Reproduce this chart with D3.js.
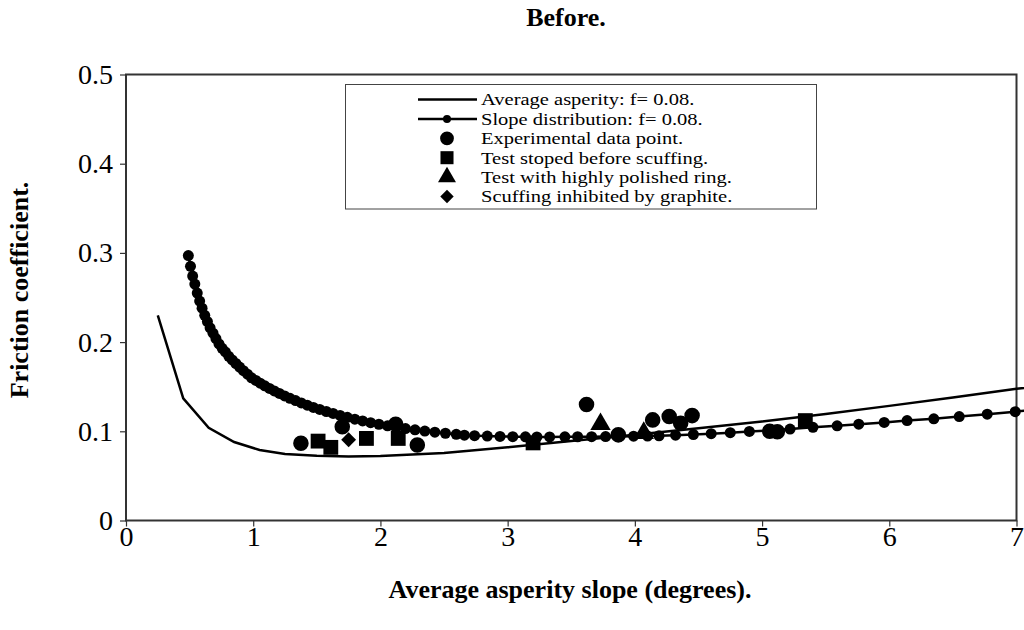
<!DOCTYPE html>
<html>
<head>
<meta charset="utf-8">
<script src="https://cdn.jsdelivr.net/npm/d3@7"></script>
<style>
  body { margin: 0; background: #fff; }
  svg { display: block; font-family: "Liberation Serif", "Times New Roman", serif; }
</style>
</head>
<body>
<svg id="chart" width="1024" height="630"></svg>
<script>
// average asperity model (solid line)
var avgX = [0.25, 0.45, 0.65, 0.85, 1.05, 1.25, 1.5, 1.75, 2.0, 2.5, 3.0, 3.5, 4.0, 4.5, 5.0, 5.5, 6.0, 6.5, 7.0, 7.25];
var avgY = [0.230, 0.137, 0.104, 0.088, 0.079, 0.0745, 0.0725, 0.0718, 0.0722, 0.0758, 0.082, 0.089, 0.096, 0.1035, 0.111, 0.1195, 0.1285, 0.138, 0.1476, 0.152];

// slope distribution model (line + dots)
var slopeX = [0.490, 0.507, 0.524, 0.541, 0.560, 0.579, 0.598, 0.619, 0.640, 0.661,
  0.684, 0.707, 0.731, 0.756, 0.781, 0.808, 0.835, 0.864, 0.893, 0.923,
  0.955, 0.987, 1.021, 1.055, 1.091, 1.128, 1.166, 1.206, 1.247, 1.289,
  1.333, 1.378, 1.425, 1.473, 1.523, 1.575, 1.628, 1.683, 1.740, 1.799,
  1.860, 1.923, 1.988, 2.056, 2.125, 2.197, 2.272, 2.349, 2.428, 2.511,
  2.596, 2.66, 2.74, 2.84, 2.94, 3.04, 3.14, 3.23, 3.33, 3.45,
  3.55, 3.66, 3.77, 3.88, 3.99, 4.10, 4.19, 4.32, 4.46, 4.60,
  4.75, 4.90, 5.05, 5.22, 5.40, 5.59, 5.76, 5.96, 6.14, 6.35,
  6.55, 6.77, 6.99, 7.21];
var slopeY = [0.297, 0.285, 0.274, 0.265, 0.255, 0.246, 0.238, 0.230, 0.223, 0.216,
  0.210, 0.204, 0.198, 0.193, 0.189, 0.184, 0.180, 0.176, 0.172, 0.168,
  0.164, 0.160, 0.157, 0.154, 0.151, 0.148, 0.1452, 0.1424, 0.1397, 0.1370,
  0.1344, 0.1318, 0.1293, 0.1267, 0.1245, 0.1222, 0.1200, 0.1178, 0.1157, 0.1136,
  0.1116, 0.1097, 0.1079, 0.1062, 0.1046, 0.1031, 0.1017, 0.1003, 0.0990, 0.0978,
  0.0966, 0.0957, 0.0951, 0.0946, 0.0942, 0.0940, 0.0938, 0.0937, 0.0937, 0.0938,
  0.0939, 0.0940, 0.0941, 0.0943, 0.0945, 0.0947, 0.0950, 0.0956, 0.0964, 0.0973,
  0.0985, 0.0998, 0.1010, 0.1025, 0.1045, 0.1062, 0.1080, 0.1100, 0.1120, 0.1140,
  0.1165, 0.1192, 0.1220, 0.1250];

// measured points
var expX = [1.375, 1.70, 2.12, 2.29, 3.62, 3.87, 4.14, 4.27, 4.36, 4.45, 5.06, 5.12];
var expY = [0.0866, 0.105, 0.108, 0.0847, 0.130, 0.096, 0.1128, 0.1165, 0.109, 0.1176, 0.100, 0.0995];
var stopX = [1.51, 1.61, 1.89, 2.14, 3.20, 5.34];
var stopY = [0.089, 0.082, 0.092, 0.092, 0.087, 0.112];
var polX = [3.73, 4.07];
var polY = [0.108, 0.098];
var graphX = [1.75];
var graphY = [0.0905];

var xTicks = [0, 1, 2, 3, 4, 5, 6, 7];
var yTicks = [0, 0.1, 0.2, 0.3, 0.4, 0.5];

var legendLabels = [
  "Average asperity: f= 0.08.",
  "Slope distribution: f= 0.08.",
  "Experimental data point.",
  "Test stoped before scuffing.",
  "Test with highly polished ring.",
  "Scuffing inhibited by graphite."
];

var svg = d3.select("#chart");
var plot = { left: 126, right: 1016.5, top: 74.5, bottom: 520.5 };

var x = d3.scaleLinear().domain([0, 7]).range([plot.left, plot.right]);
var y = d3.scaleLinear().domain([0, 0.5]).range([plot.bottom, plot.top]);

function pts(xs, ys) { return xs.map(function (d, i) { return [d, ys[i]]; }); }

// plot frame
svg.append("rect")
  .attr("x", plot.left).attr("y", plot.top)
  .attr("width", plot.right - plot.left).attr("height", plot.bottom - plot.top)
  .attr("fill", "none").attr("stroke", "#333").attr("stroke-width", 2);

var xAxis = svg.append("g")
  .attr("transform", "translate(0," + plot.bottom + ")")
  .call(d3.axisBottom(x).tickValues(xTicks).tickSize(6).tickPadding(0).tickFormat(d3.format("d")));
var yAxis = svg.append("g")
  .attr("transform", "translate(" + plot.left + ",0)")
  .call(d3.axisLeft(y).tickValues(yTicks).tickSize(6).tickPadding(7).tickFormat(function (d) { return d === 0 ? "0" : d3.format(".1f")(d); }));

[xAxis, yAxis].forEach(function (a) {
  a.select(".domain").remove();
  a.selectAll("line").attr("stroke", "#333").attr("stroke-width", 1.2);
  a.selectAll("text").attr("fill", "#000").style("font-size", "28px")
    .style("font-family", "'Liberation Serif', serif");
});

var line = d3.line().x(function (d) { return x(d[0]); }).y(function (d) { return y(d[1]); });

svg.append("path").datum(pts(avgX, avgY))
  .attr("d", line).attr("fill", "none").attr("stroke", "#000").attr("stroke-width", 2.5);

svg.append("path").datum(pts(slopeX, slopeY))
  .attr("d", line).attr("fill", "none").attr("stroke", "#000").attr("stroke-width", 2.5);

svg.append("g").selectAll("circle").data(pts(slopeX, slopeY)).enter().append("circle")
  .attr("cx", function (d) { return x(d[0]); })
  .attr("cy", function (d) { return y(d[1]); })
  .attr("r", 5.5).attr("fill", "#000");

function marker(type, size) {
  return d3.symbol().type(type).size(size)();
}

function drawPoints(xs, ys, type, size, rot) {
  svg.append("g").selectAll("path").data(pts(xs, ys)).enter().append("path")
    .attr("transform", function (d) { return "translate(" + x(d[0]) + "," + y(d[1]) + ")" + (rot ? " rotate(45)" : ""); })
    .attr("d", marker(type, size))
    .attr("fill", "#000");
}

drawPoints(expX, expY, d3.symbolCircle, 190);
drawPoints(stopX, stopY, d3.symbolSquare, 220);
drawPoints(polX, polY, d3.symbolTriangle, 180);
drawPoints(graphX, graphY, d3.symbolSquare, 110, true);

// legend
var lg = svg.append("g");
lg.append("rect")
  .attr("x", 345.5).attr("y", 84.5).attr("width", 471).attr("height", 124.5)
  .attr("fill", "#fff").attr("stroke", "#444").attr("stroke-width", 1);

var rowY = function (i) { return 99.5 + i * 19.4; };
var symX = 447;

lg.append("line").attr("x1", 418).attr("x2", 477).attr("y1", rowY(0)).attr("y2", rowY(0))
  .attr("stroke", "#000").attr("stroke-width", 2.5);
lg.append("line").attr("x1", 418).attr("x2", 477).attr("y1", rowY(1)).attr("y2", rowY(1))
  .attr("stroke", "#000").attr("stroke-width", 2.5);
lg.append("circle").attr("cx", symX).attr("cy", rowY(1)).attr("r", 4).attr("fill", "#000");

var legendSyms = [[d3.symbolCircle, 150, false], [d3.symbolSquare, 170, false], [d3.symbolTriangle, 140, false], [d3.symbolSquare, 90, true]];
legendSyms.forEach(function (s, i) {
  lg.append("path")
    .attr("transform", "translate(" + symX + "," + rowY(i + 2) + ")" + (s[2] ? " rotate(45)" : ""))
    .attr("d", marker(s[0], s[1])).attr("fill", "#000");
});

// rows are tight in the original: smaller font, stretched to the original width
var labs = lg.selectAll("text.lab").data(legendLabels).enter().append("text")
  .attr("class", "lab")
  .attr("x", 481).attr("y", function (d, i) { return rowY(i); })
  .attr("dy", "0.34em")
  .style("font-size", "20.5px")
  .text(function (d) { return d; });
labs.each(function () {
  var w = this.getComputedTextLength();
  d3.select(this).style("font-size", "17.4px")
    .attr("textLength", w).attr("lengthAdjust", "spacingAndGlyphs");
});

// titles
svg.append("text").attr("x", 566).attr("y", 26).attr("text-anchor", "middle")
  .style("font-size", "26px").style("font-weight", "bold").text("Before.");

svg.append("text").attr("x", 570).attr("y", 598).attr("text-anchor", "middle")
  .style("font-size", "26px").style("font-weight", "bold").text("Average asperity slope (degrees).");

svg.append("text").attr("transform", "translate(28,290) rotate(-90)").attr("text-anchor", "middle")
  .style("font-size", "26px").style("font-weight", "bold").text("Friction coefficient.");
</script>
</body>
</html>
